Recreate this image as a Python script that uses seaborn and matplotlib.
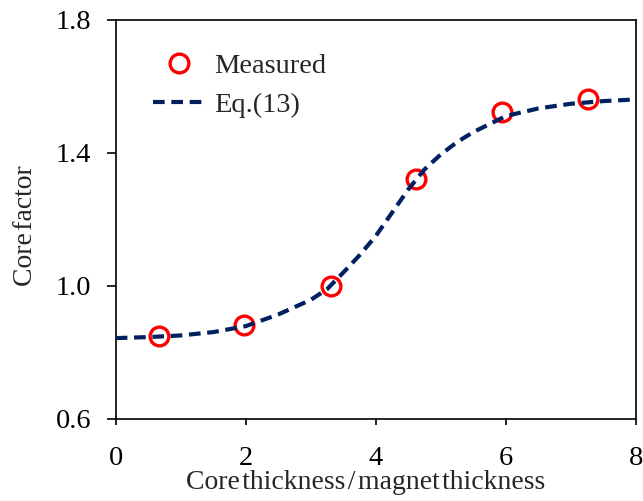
import matplotlib
matplotlib.use("Agg")
import matplotlib.pyplot as plt
import seaborn as sns

# Measured data
meas_x = [0.67, 1.98, 3.31, 4.62, 5.94, 7.27]
meas_y = [0.850, 0.881, 1.000, 1.321, 1.522, 1.560]

# Eq.(13) curve
eq_x = [0.0, 0.5, 1.0, 1.5, 2.0, 2.5, 3.0, 3.25, 3.5, 3.75, 4.0, 4.25, 4.5, 4.75, 5.0, 5.25, 5.5, 6.0, 6.5, 7.0, 7.5, 8.0]
eq_y = [0.843, 0.846, 0.851, 0.861, 0.879, 0.914, 0.958, 0.990, 1.040, 1.092, 1.150, 1.220, 1.290, 1.350, 1.395, 1.432, 1.462, 1.510, 1.533, 1.547, 1.555, 1.560]

x_ticks = [0, 2, 4, 6, 8]
y_ticks = [0.6, 1.0, 1.4, 1.8]
x_tick_labels = ['0', '2', '4', '6', '8']
y_tick_labels = ['0.6', '1.0', '1.4', '1.8']

sns.set_style("ticks")
plt.rcParams['font.family'] = ['Liberation Serif', 'DejaVu Serif']

fig = plt.figure(figsize=(6.43, 5.01), dpi=100)
ax = fig.add_axes([0.180, 0.1637, 0.809, 0.7973])

sns.lineplot(x=meas_x, y=meas_y, ax=ax, marker='o', linestyle='', markersize=13.5,
             markerfacecolor='none', markeredgecolor='red', markeredgewidth=2.4,
             label='Measured', zorder=2)
sns.lineplot(x=eq_x, y=eq_y, ax=ax, color='#002060', linewidth=3.0,
             linestyle=(0, (2.8, 1.6)), label='Eq.(13)', zorder=3)

ax.set_xlim(0, 8)
ax.set_ylim(0.6, 1.8)
ax.set_xticks(x_ticks)
ax.set_yticks(y_ticks)
ax.set_xticklabels(x_tick_labels)
ax.set_yticklabels(y_tick_labels)
ax.tick_params(axis='x', direction='out', length=4.5, width=1.2, labelsize=20.5, colors='black', pad=15)
ax.tick_params(axis='y', direction='out', length=6.5, width=1.2, labelsize=20.5, colors='black', pad=11)
for s in ax.spines.values():
    s.set_color('black')
    s.set_linewidth(1.2)

hs = '\u200a'
ax.set_xlabel(f'Core{hs}thickness{hs}/{hs}magnet{hs}thickness', fontsize=20, labelpad=-1)
ax.set_ylabel(f'Core{hs}factor', fontsize=20, labelpad=13)
ax.xaxis.label.set_x(0.48)
ax.yaxis.label.set_y(0.485)

leg = ax.legend(frameon=False, loc='upper left', bbox_to_anchor=(0.022, 0.98),
                fontsize=20.5, handlelength=1.85, handletextpad=0.3, labelspacing=0.45)

fig.savefig('out.png', dpi=100)
